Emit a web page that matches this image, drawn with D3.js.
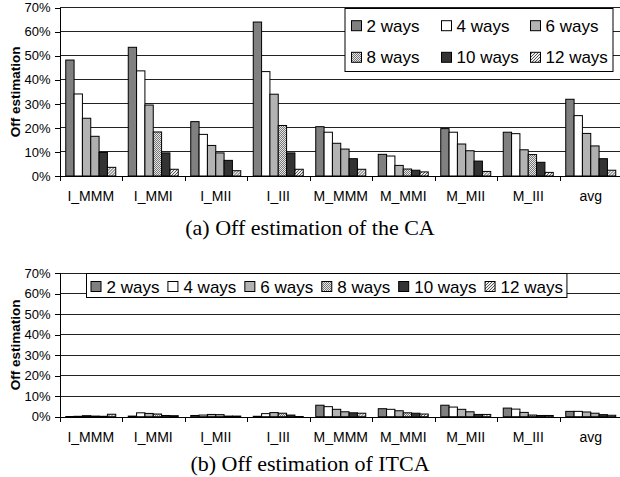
<!DOCTYPE html>
<html lang="en">
<head>
<meta charset="UTF-8">
<title>Off estimation</title>
<style>
body { margin: 0; background: #fff; }
svg { display: block; }
.axis path, .axis line { fill: none; stroke: #000; shape-rendering: crispEdges; }
.axis text { font-family: "Liberation Sans", Arial, sans-serif; font-size: 13px; fill: #000; }
.xlab text { font-size: 14px; }
.grid line { stroke: #222; shape-rendering: crispEdges; }
.legend text { font-family: "Liberation Sans", Arial, sans-serif; font-size: 17px; }
.caption { font-family: "Liberation Serif", "Times New Roman", serif; font-size: 22px; }
.ytitle { font-family: "Liberation Sans", Arial, sans-serif; font-size: 13.5px; font-weight: bold; }
</style>
</head>
<body>
<script src="https://cdn.jsdelivr.net/npm/d3@7"></script>
<script>
var categories = ["I_MMM", "I_MMI", "I_MII", "I_III", "M_MMM", "M_MMI", "M_MII", "M_III", "avg"];
var series = ["2 ways", "4 ways", "6 ways", "8 ways", "10 ways", "12 ways"];
var yTicks = [0, 0.1, 0.2, 0.3, 0.4, 0.5, 0.6, 0.7];

// (a) CA, percent, one array per series
var ca2 = [48.2, 53.5, 22.6, 64.0, 20.5, 9.0, 19.7, 18.2, 31.9];
var ca4 = [34.1, 43.7, 17.3, 43.4, 18.2, 8.3, 18.2, 17.6, 25.1];
var ca6 = [24.0, 29.5, 12.7, 34.0, 13.6, 4.4, 13.3, 10.9, 17.7];
var ca8 = [16.5, 18.3, 9.6, 21.0, 11.2, 2.9, 10.5, 8.9, 12.5];
var ca10 = [9.8, 9.6, 6.5, 9.6, 7.2, 2.4, 6.2, 5.7, 7.2];
var ca12 = [3.6, 2.8, 2.2, 2.8, 2.8, 1.7, 1.9, 1.5, 2.4];

// (b) ITCA, percent
var it2 = [0.1, 0.3, 0.6, 0.2, 5.6, 3.9, 5.6, 4.2, 2.6];
var it4 = [0.2, 1.9, 0.8, 1.5, 4.9, 3.6, 4.7, 3.7, 2.6];
var it6 = [0.5, 1.6, 1.1, 2.0, 3.6, 2.9, 3.6, 2.1, 2.3];
var it8 = [0.3, 1.3, 1.0, 1.7, 2.4, 1.9, 2.4, 0.8, 1.7];
var it10 = [0.2, 0.6, 0.3, 0.8, 1.9, 1.7, 1.1, 0.6, 1.0];
var it12 = [1.2, 0.5, 0.3, 0.1, 1.7, 1.3, 1.1, 0.6, 0.7];

var fills = ["#808080", "#ffffff", "#b3b3b3", "url(#dots)", "#333333", "url(#hatch)"];

var width = 620, height = 477;
var svg = d3.select("body").append("svg").attr("width", width).attr("height", height);

// patterns
var defs = svg.append("defs");
var p1 = defs.append("pattern").attr("id", "dots").attr("patternUnits", "userSpaceOnUse")
    .attr("width", 2).attr("height", 2);
p1.append("rect").attr("width", 2).attr("height", 2).attr("fill", "#e6e6e6");
p1.append("rect").attr("width", 1).attr("height", 1).attr("fill", "#777");
p1.append("rect").attr("x", 1).attr("y", 1).attr("width", 1).attr("height", 1).attr("fill", "#777");
var p2 = defs.append("pattern").attr("id", "hatch").attr("patternUnits", "userSpaceOnUse")
    .attr("width", 3).attr("height", 3);
p2.append("rect").attr("width", 3).attr("height", 3).attr("fill", "#eee");
p2.append("path").attr("d", "M-1,1 l2,-2 M0,3 l3,-3 M2,4 l2,-2").attr("stroke", "#555").attr("stroke-width", 1);

var x0 = d3.scaleBand().domain(categories).range([59.5, 622]);
var x1 = d3.scaleBand().domain(series).range([0, x0.bandwidth()]).paddingOuter(0.75);
var xt = d3.scaleLinear().domain([0, categories.length]).range(x0.range());

function drawChart(opt) {
    var y = d3.scaleLinear().domain([0, 0.7]).range([opt.bottom, opt.top]);
    var rows = opt.data;

    svg.append("g").attr("class", "grid")
        .selectAll("line").data(yTicks.slice(1)).enter().append("line")
        .attr("x1", 59.5).attr("x2", 622)
        .attr("y1", function(d) { return y(d); }).attr("y2", function(d) { return y(d); });

    var g = svg.append("g").selectAll("g").data(categories).enter().append("g")
        .attr("transform", function(c) { return "translate(" + x0(c) + ",0)"; });
    g.selectAll("rect").data(function(c, i) {
        return series.map(function(s, j) { return { s: s, j: j, v: rows[j][i] / 100 }; });
    }).enter().append("rect")
        .attr("x", function(d) { return x1(d.s); })
        .attr("width", x1.bandwidth())
        .attr("y", function(d) { return y(d.v); })
        .attr("height", function(d) { return y(0) - y(d.v); })
        .attr("fill", function(d) { return fills[d.j]; })
        .attr("stroke", "#000").attr("stroke-width", 1);

    svg.append("g").attr("class", "axis")
        .attr("transform", "translate(59.5,0)")
        .call(d3.axisLeft(y).tickValues(yTicks).tickFormat(d3.format(".0%")).tickSize(5).tickPadding(4));

    svg.append("g").attr("class", "axis")
        .attr("transform", "translate(0," + opt.bottom + ")")
        .call(d3.axisBottom(xt).ticks(categories.length).tickFormat("").tickSize(5).tickSizeOuter(0));

    svg.append("g").attr("class", "axis xlab")
        .attr("transform", "translate(0," + opt.bottom + ")")
        .call(d3.axisBottom(x0).tickSize(0).tickPadding(15))
        .select(".domain").remove();

    svg.append("text").attr("class", "ytitle")
        .attr("transform", "translate(20," + (opt.top + opt.bottom) / 2 + ") rotate(-90)")
        .attr("text-anchor", "middle").text("Off estimation");

    svg.append("text").attr("class", "caption")
        .attr("x", 310).attr("y", opt.caption).attr("text-anchor", "middle").text(opt.title);
}

drawChart({ data: [ca2, ca4, ca6, ca8, ca10, ca12], top: 7.6, bottom: 176, caption: 235,
    title: "(a) Off estimation of the CA" });
drawChart({ data: [it2, it4, it6, it8, it10, it12], top: 273.2, bottom: 416.7, caption: 471,
    title: "(b) Off estimation of ITCA" });

// legend (a): 3 columns x 2 rows
var lgA = svg.append("g").attr("class", "legend");
lgA.append("rect").attr("x", 345).attr("y", 8.5).attr("width", 268).attr("height", 63)
    .attr("fill", "#fff").attr("stroke", "#000");
var colX = [351.5, 441.5, 530.5], rowY = [25.7, 57.3];
series.forEach(function(s, i) {
    var cx = colX[i % 3], cy = rowY[Math.floor(i / 3)];
    lgA.append("rect").attr("x", cx).attr("y", cy - 5).attr("width", 10).attr("height", 10)
        .attr("fill", fills[i]).attr("stroke", "#000");
    lgA.append("text").attr("x", cx + 15).attr("y", cy + 6).text(s);
});

// legend (b): one row
var lgB = svg.append("g").attr("class", "legend");
var box = lgB.append("rect").attr("x", 86.5).attr("y", 273.5).attr("height", 24)
    .attr("fill", "#fff").attr("stroke", "#000");
var px = 91;
series.forEach(function(s, i) {
    lgB.append("rect").attr("x", px).attr("y", 281.5).attr("width", 10).attr("height", 10)
        .attr("fill", fills[i]).attr("stroke", "#000");
    var t = lgB.append("text").attr("x", px + 15.5).attr("y", 292.5).text(s);
    px = px + 15.5 + t.node().getComputedTextLength() + 8.5;
});
box.attr("width", px - 8.5 + 4 - 86.5);
</script>
</body>
</html>
